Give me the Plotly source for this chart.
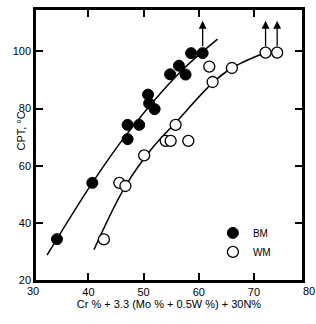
import plotly.graph_objects as go

# Data
bm_x = [34.3, 40.7, 47.1, 47.1, 49.2, 50.8, 51.0, 52.0, 54.8, 56.4, 57.6, 58.6, 60.7]
bm_y = [34.3, 54.0, 69.3, 74.3, 74.3, 84.9, 81.8, 79.8, 92.0, 95.0, 91.9, 99.4, 99.4]

wm_x = [42.8, 45.6, 46.7, 50.1, 54.0, 54.9, 55.8, 58.1, 61.9, 62.5, 66.0, 72.1, 74.2]
wm_y = [34.2, 54.0, 52.9, 63.6, 68.7, 68.7, 74.3, 68.7, 94.7, 89.3, 94.2, 99.6, 99.6]

bm_fit_x = [32.5, 40.7, 47.1, 56.6, 63.4]
bm_fit_y = [28.7, 54.0, 71.4, 92.7, 104.3]

wm_fit_x = [41.0, 46.6, 51.5, 56.0, 62.5, 66.0, 72.1]
wm_fit_y = [30.6, 52.5, 66.0, 75.5, 89.0, 94.2, 99.6]

arrow_x = [60.7, 72.1, 74.2]
arrow_y0 = 101.3
arrow_y1 = 110.7

x_tickvals = [40, 50, 60, 70]
y_tickvals = [20, 40, 60, 80, 100]
x_edge_labels = ["30", "80"]

FONT = "Liberation Sans, Arial, sans-serif"

fig = go.Figure()
fig.add_trace(go.Scatter(x=bm_fit_x, y=bm_fit_y, mode="lines",
                         line=dict(color="black", width=1.5, shape="spline"),
                         showlegend=False, hoverinfo="skip"))
fig.add_trace(go.Scatter(x=wm_fit_x, y=wm_fit_y, mode="lines",
                         line=dict(color="black", width=1.5, shape="spline"),
                         showlegend=False, hoverinfo="skip"))
fig.add_trace(go.Scatter(x=bm_x, y=bm_y, mode="markers", name="BM",
                         marker=dict(symbol="circle", size=11, color="black",
                                     line=dict(color="black", width=1))))
fig.add_trace(go.Scatter(x=wm_x, y=wm_y, mode="markers", name="WM",
                         marker=dict(symbol="circle", size=11, color="white",
                                     line=dict(color="black", width=1.3))))

for ax_ in arrow_x:
    fig.add_annotation(x=ax_, y=arrow_y1, ax=ax_, ay=arrow_y0,
                       xref="x", yref="y", axref="x", ayref="y",
                       showarrow=True, arrowhead=2, arrowsize=1.2,
                       arrowwidth=1.3, arrowcolor="black", text="")

# edge tick labels 30 and 80 (frame sits slightly inside these values)
for txt, px in zip(x_edge_labels, [-0.011, 1.027]):
    fig.add_annotation(x=px, y=0, xref="paper", yref="paper", text=txt,
                       showarrow=False, xanchor="center", yanchor="top",
                       yshift=-3, font=dict(family=FONT, size=11, color="black"))

fig.add_annotation(x=-0.09, y=0.55, xref="paper", yref="paper",
                   text="CPT, °C", textangle=-90, showarrow=False,
                   font=dict(family=FONT, size=11, color="black"))

fig.update_xaxes(range=[30.5, 78.7], tickvals=x_tickvals, ticks="inside",
                 ticklen=7, tickwidth=1.5, tickcolor="black",
                 showline=True, linewidth=2.5, linecolor="black", mirror="ticks",
                 showgrid=False, zeroline=False,
                 tickfont=dict(family=FONT, size=11, color="black"),
                 title=dict(text="Cr % + 3.3 (Mo % + 0.5W %) + 30N%",
                            font=dict(family=FONT, size=11, color="black"),
                            standoff=2))
fig.update_yaxes(range=[20, 114.5], tickvals=y_tickvals, ticks="inside",
                 ticklen=7, tickwidth=1.5, tickcolor="black",
                 showline=True, linewidth=2.5, linecolor="black", mirror="ticks",
                 showgrid=False, zeroline=False,
                 tickfont=dict(family=FONT, size=11, color="black"))

fig.update_layout(
    width=316, height=324,
    margin=dict(l=36, r=14, t=7, b=44),
    plot_bgcolor="white", paper_bgcolor="white",
    font=dict(family=FONT, size=11, color="black"),
    legend=dict(x=0.665, y=0.228, xanchor="left", yanchor="top",
                bgcolor="rgba(0,0,0,0)", font=dict(family=FONT, size=10, color="black"),
                tracegroupgap=0, itemsizing="trace"),
)

fig.write_html("out.html")
